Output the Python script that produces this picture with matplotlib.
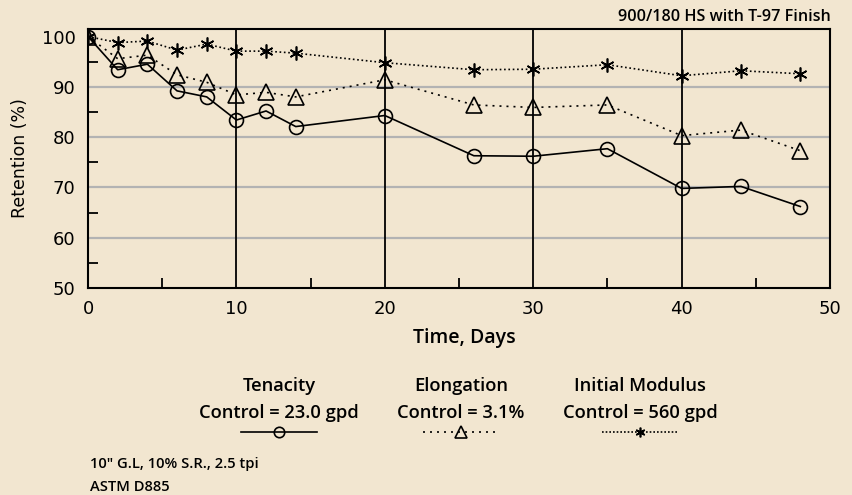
import matplotlib
matplotlib.use("Agg")
import matplotlib.pyplot as plt
from matplotlib.lines import Line2D

days = [0, 2, 4, 6, 8, 10, 12, 14, 20, 26, 30, 35, 40, 44, 48]
tenacity = [100, 93.4, 94.5, 89.2, 88.0, 83.4, 85.2, 82.1, 84.3, 76.3, 76.2, 77.7, 69.8, 70.2, 66.2]
elongation = [100, 95.6, 96.3, 92.4, 90.9, 88.4, 88.9, 88.0, 91.4, 86.4, 85.9, 86.4, 80.3, 81.4, 77.3]
modulus = [100, 98.8, 99.1, 97.3, 98.5, 97.1, 97.1, 96.7, 94.8, 93.4, 93.5, 94.4, 92.2, 93.2, 92.6]

x_ticks = [0, 10, 20, 30, 40, 50]
y_ticks = [50, 60, 70, 80, 90, 100]

BG = "#F2E6D0"
HUM = ["Open Sans", "DejaVu Sans"]
plt.rcParams["font.family"] = ["DejaVu Sans"]

fig = plt.figure(figsize=(8.52, 4.95), dpi=100, facecolor=BG)
W, H = 852, 495
ax = fig.add_axes([88 / W, 1 - 288 / H, (830 - 88) / W, (288 - 29) / H])
ax.set_facecolor(BG)

ax.set_xlim(0, 50)
ax.set_ylim(50, 101.5)

for y in [60, 70, 80, 90]:
    ax.axhline(y, color="#b3b3b3", lw=1.6, zorder=1)
for x in [10, 20, 30, 40]:
    ax.axvline(x, color="black", lw=1.3, zorder=2)

ax.plot(days, tenacity, color="black", lw=1.2, marker="o", ms=10,
        mfc="none", mec="black", mew=1.2, zorder=4)
ax.plot(days, elongation, color="black", lw=1.2, ls=(0, (1.2, 3.0)), marker="^", ms=11,
        mfc="none", mec="black", mew=1.2, zorder=4)
ax.plot(days, modulus, color="black", lw=1.2, ls=(0, (1, 1.6)), marker=(6, 2, 0), ms=10,
        mfc="none", mec="black", mew=1.2, zorder=4)

ax.set_xticks(x_ticks)
ax.set_xticks([5, 15, 25, 35, 45], minor=True)
ax.set_yticks(y_ticks)
ax.set_yticks([55, 65, 75, 85, 95], minor=True)
ax.tick_params(axis="both", which="major", direction="in", length=0, labelsize=13)
ax.tick_params(axis="y", which="major", pad=9)
ax.tick_params(axis="x", which="major", pad=9)
ax.tick_params(axis="both", which="minor", direction="in", length=7, width=1.3)
for s in ax.spines.values():
    s.set_linewidth(1.5)
    s.set_zorder(5)

ax.set_xlabel("Time, Days", fontsize=14, fontweight="semibold", family=HUM)
ax.xaxis.set_label_coords((464 - 88) / (830 - 88), -0.155)
ax.set_ylabel("Retention (%)", fontsize=12.5)
ax.yaxis.set_label_coords((29 - 88) / (830 - 88), 0.5)

fig.text(831 / W, 1 - 17 / H, "900/180 HS with T-97 Finish", ha="right", va="center",
         fontsize=11.6, fontweight="semibold", family=HUM)

legend_items = [
    ("Tenacity", "Control = 23.0 gpd", 279, "-", "o", 7.5),
    ("Elongation", "Control = 3.1%", 461, (0, (1.2, 3.0)), "^", 9),
    ("Initial Modulus", "Control = 560 gpd", 640, (0, (1, 1.2)), (6, 2, 0), 7),
]
for name, ctrl, cx, ls, mk, ms in legend_items:
    fig.text(cx / W, 1 - 386 / H, name, ha="center", va="center", fontsize=13.2,
             fontweight="semibold", family=HUM)
    fig.text(cx / W, 1 - 413 / H, ctrl, ha="center", va="center", fontsize=13.2,
             fontweight="semibold", family=HUM)
    fig.add_artist(Line2D([(cx - 38) / W, (cx + 38) / W], [1 - 432 / H, 1 - 432 / H],
                          color="black", lw=1.2, ls=ls, transform=fig.transFigure))
    fig.add_artist(Line2D([cx / W], [1 - 432 / H], marker=mk, ms=ms, mfc="none", mec="black",
                          mew=1.2, ls="none", transform=fig.transFigure))

fig.text(90 / W, 1 - 464 / H, "10\" G.L, 10% S.R., 2.5 tpi", ha="left", va="center",
         fontsize=10.6, fontweight="semibold", family=HUM)
fig.text(90 / W, 1 - 487 / H, "ASTM D885", ha="left", va="center", fontsize=10.6,
         fontweight="semibold", family=HUM)

fig.savefig("out.png", dpi=100, facecolor=BG)
